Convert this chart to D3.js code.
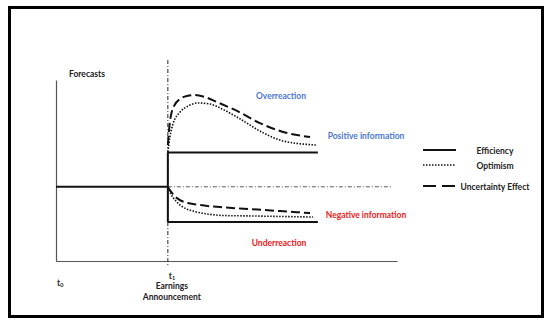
<!DOCTYPE html>
<html>
<head>
<meta charset="utf-8">
<script src="https://cdn.jsdelivr.net/npm/d3@7"></script>
<style>
  body { margin: 0; background: #fff; }
  text { font-family: Lato, "Open Sans", sans-serif; font-weight: bold; }
</style>
</head>
<body>
<script>
// tijdstippen en niveaus (assen lopen van 0 tot 100)
var t0 = 0
var t1 = 32.8
var tEind = 76.8
var tStippel = 98.2
var basisNiveau = 41
var positiefNiveau = 60
var negatiefNiveau = 21.5

// curves na de aankondiging
var onzekerBovenX = [32.8, 33.4, 34.6, 36.4, 38.4, 40.8, 43.7, 47.2, 53.1, 59.8, 66.6, 74.5]
var onzekerBovenY = [64.1, 76.8, 85.6, 89.5, 91.2, 91.7, 90.6, 87.8, 82.9, 76.2, 71.3, 68.5]
var optimismeBovenX = [32.8, 33.4, 34.3, 36.4, 38.7, 41.6, 45.2, 48.7, 54.0, 59.8, 66.6, 76.2]
var optimismeBovenY = [60.2, 68.5, 75.7, 82.3, 85.6, 87.3, 86.7, 84.0, 78.5, 71.8, 66.3, 64.1]
var onzekerOnderX = [32.8, 34.0, 35.8, 38.7, 42.2, 48.1, 56.9, 65.7, 74.5]
var onzekerOnderY = [40.9, 37.6, 34.3, 32.0, 30.9, 29.8, 28.7, 27.6, 26.5]
var optimismeOnderX = [32.8, 33.7, 35.2, 37.2, 40.2, 44.3, 49.6, 56.9, 65.7, 75.4]
var optimismeOnderY = [40.9, 37.0, 33.1, 29.8, 27.6, 26.0, 25.1, 24.9, 24.6, 24.3]

var legendaNamen = ["Efficiency", "Optimism", "Uncertainty Effect"]

var breedte = 550
var hoogte = 325

var svg = d3.select("body").append("svg")
    .attr("width", breedte)
    .attr("height", hoogte)

// kader rond de figuur
svg.append("rect")
   .attr("x", 9.5).attr("y", 7.5)
   .attr("width", 533).attr("height", 309)
   .attr("fill", "none")
   .attr("stroke", "#000")
   .attr("stroke-width", 3)

var x = d3.scaleLinear().domain([0, 100]).range([56, 397])
var y = d3.scaleLinear().domain([0, 100]).range([261, 80])

// assen zonder streepjes
svg.append("g")
   .attr("transform", "translate(0," + y(0) + ")")
   .call(d3.axisBottom(x).tickValues([]).tickSizeOuter(0))
   .select(".domain").attr("stroke", "#555").attr("stroke-width", 1.2)

svg.append("g")
   .attr("transform", "translate(" + x(0) + ",0)")
   .call(d3.axisLeft(y).tickValues([]).tickSizeOuter(0))
   .select(".domain").attr("stroke", "#555").attr("stroke-width", 1.2)

// streep-punt lijnen
svg.append("line")
   .attr("x1", x(t1)).attr("x2", x(t1))
   .attr("y1", y(111)).attr("y2", y(-2.8))
   .attr("stroke", "#222").attr("stroke-width", 1)
   .attr("stroke-dasharray", "4,2,1,2")

svg.append("line")
   .attr("x1", x(t1)).attr("x2", x(tStippel))
   .attr("y1", y(basisNiveau)).attr("y2", y(basisNiveau))
   .attr("stroke", "#333").attr("stroke-width", 0.8)
   .attr("stroke-dasharray", "4,2,1,2")

// efficiency lijnen
var lijn = d3.line().x(function(d) { return x(d[0]) }).y(function(d) { return y(d[1]) })

var efficiency = [
  [[t0, basisNiveau], [t1, basisNiveau]],
  [[t1, negatiefNiveau], [t1, positiefNiveau]],
  [[t1, positiefNiveau], [tEind, positiefNiveau]],
  [[t1, negatiefNiveau], [tEind, negatiefNiveau]]
]
svg.selectAll(".eff")
   .data(efficiency)
   .enter().append("path")
   .attr("class", "eff")
   .attr("d", lijn)
   .attr("fill", "none")
   .attr("stroke", "#111")
   .attr("stroke-width", 2)

// curves
var kromme = d3.line().curve(d3.curveMonotoneX)
    .x(function(d) { return x(d[0]) }).y(function(d) { return y(d[1]) })

function paren(xs, ys) { return xs.map(function(v, i) { return [v, ys[i]] }) }

var curves = [
  {punten: paren(onzekerBovenX, onzekerBovenY), streep: "9,4", dikte: 2},
  {punten: paren(onzekerOnderX, onzekerOnderY), streep: "9,4", dikte: 2},
  {punten: paren(optimismeBovenX, optimismeBovenY), streep: "1.5,1.5", dikte: 1.6},
  {punten: paren(optimismeOnderX, optimismeOnderY), streep: "1.5,1.5", dikte: 1.6}
]
svg.selectAll(".curve")
   .data(curves)
   .enter().append("path")
   .attr("class", "curve")
   .attr("d", function(d) { return kromme(d.punten) })
   .attr("fill", "none")
   .attr("stroke", "#111")
   .attr("stroke-width", function(d) { return d.dikte })
   .attr("stroke-dasharray", function(d) { return d.streep })

// teksten in de grafiek
function tekst(tx, ty, s, kleur, anker) {
  return svg.append("text")
     .attr("x", tx).attr("y", ty)
     .attr("dy", "0.35em")
     .attr("font-size", "8.5px")
     .attr("fill", kleur)
     .attr("text-anchor", anker || "middle")
     .text(s)
}
tekst(69, 74, "Forecasts", "#222", "start")
tekst(281, 96, "Overreaction", "#4a78d0")
tekst(366, 136, "Positive information", "#4a78d0")
tekst(366, 215, "Negative information", "#e8201c")
tekst(279, 243, "Underreaction", "#e8201c")

// labels onder de x-as
var lt0 = tekst(x(t0) + 1, 283, "t", "#222", "start")
lt0.append("tspan").attr("font-size", "5.5px").attr("dy", "0.15em").text("0")
var lt1 = tekst(x(t1) + 1, 276, "t", "#222", "start")
lt1.append("tspan").attr("font-size", "5.5px").attr("dy", "0.15em").text("1")
tekst(x(t1) + 4, 286, "Earnings", "#222")
tekst(x(t1) + 4, 297, "Announcement", "#222")

// legenda
var legendaY = [150, 165, 186]
var legendaStreep = [null, "1.5,1.5", "13,6"]
var legendaDikte = [2, 1.6, 2]
var legenda = svg.append("g").attr("class", "legend")
legenda.selectAll("line")
   .data(legendaNamen)
   .enter().append("line")
   .attr("x1", 423).attr("x2", 456)
   .attr("y1", function(d, i) { return legendaY[i] })
   .attr("y2", function(d, i) { return legendaY[i] })
   .attr("stroke", "#111")
   .attr("stroke-width", function(d, i) { return legendaDikte[i] })
   .attr("stroke-dasharray", function(d, i) { return legendaStreep[i] })
legenda.selectAll("text")
   .data(legendaNamen)
   .enter().append("text")
   .attr("x", 495)
   .attr("y", function(d, i) { return legendaY[i] + 1 })
   .attr("dy", "0.35em")
   .attr("font-size", "8.5px")
   .attr("fill", "#222")
   .attr("text-anchor", "middle")
   .text(function(d) { return d })
</script>
</body>
</html>
